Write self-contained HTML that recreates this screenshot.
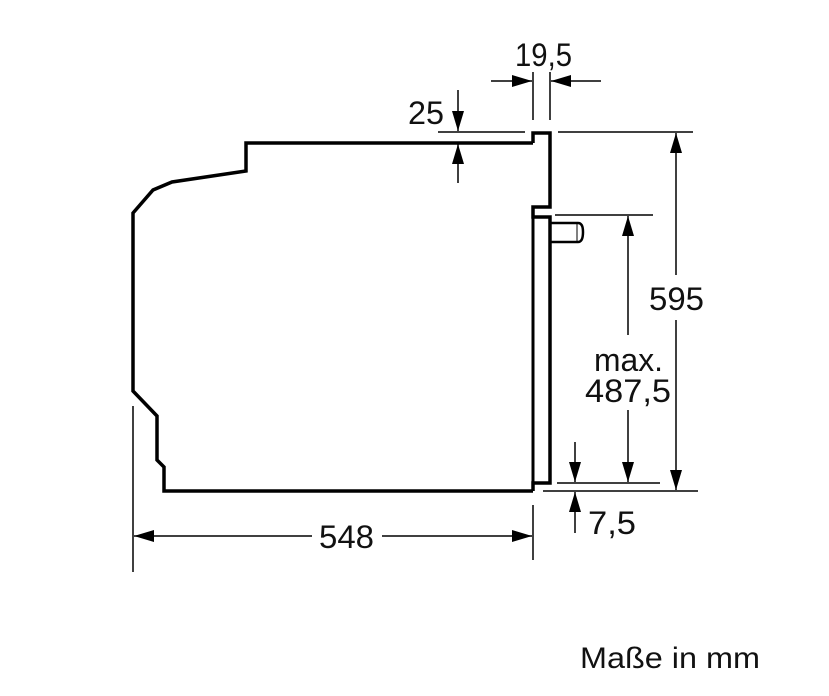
<!DOCTYPE html>
<html><head><meta charset="utf-8"><style>html,body{margin:0;padding:0;background:#fff}svg{display:block}</style></head><body>
<svg width="829" height="696" viewBox="0 0 829 696" xmlns="http://www.w3.org/2000/svg" font-family="Liberation Sans, Arial, sans-serif" fill="#111">
<defs>
<marker id="a" viewBox="0 0 10 10" refX="10" refY="5" markerWidth="12" markerHeight="12" markerUnits="userSpaceOnUse" orient="auto"><path d="M0,0 L10,5 L0,10 z" fill="#000"/></marker>
<marker id="b" viewBox="0 0 20 12" refX="20" refY="6" markerWidth="20" markerHeight="12" markerUnits="userSpaceOnUse" orient="auto"><path d="M0,0 L20,6 L0,12 z" fill="#000"/></marker>
</defs>
<path d="M533,143 L246,143 L246,171 L172,182 L153,190 L133,213 L133,391 L157,416 L157,460 L164,467 L164,491 L533,491" fill="none" stroke="#000" stroke-width="3.5" stroke-linejoin="miter"/>
<path d="M533,143 L533,133 L550,133 L550,207 L533,207 L533,217 L550,217 L550,483 L533,483 L533,491" fill="none" stroke="#000" stroke-width="3.5"/>
<path d="M533,217 L533,483" fill="none" stroke="#000" stroke-width="3"/>
<path d="M550,223 L578,223 Q583,223 583,232 Q583,242 578,242 L550,242" fill="none" stroke="#000" stroke-width="2.5"/>
<line x1="577" y1="224" x2="577" y2="241" stroke="#000" stroke-width="1"/>
<g stroke="#000" stroke-width="1.5" fill="none">
<line x1="533" y1="72" x2="533" y2="120"/>
<line x1="550" y1="72" x2="550" y2="120"/>
<line x1="491" y1="81" x2="532" y2="81" marker-end="url(#b)"/>
<line x1="601" y1="81" x2="551" y2="81" marker-end="url(#b)"/>
<line x1="438" y1="132" x2="525" y2="132"/>
<line x1="458" y1="90" x2="458" y2="131" marker-end="url(#b)"/>
<line x1="458" y1="183" x2="458" y2="144" marker-end="url(#b)"/>
<line x1="558" y1="132" x2="693" y2="132"/>
<line x1="543" y1="491" x2="698" y2="491"/>
<line x1="676" y1="275" x2="676" y2="133" marker-end="url(#b)"/>
<line x1="676" y1="320" x2="676" y2="490" marker-end="url(#b)"/>
<line x1="555" y1="215" x2="653" y2="215"/>
<line x1="557" y1="483" x2="660" y2="483"/>
<line x1="628" y1="335" x2="628" y2="216" marker-end="url(#b)"/>
<line x1="628" y1="410" x2="628" y2="482" marker-end="url(#b)"/>
<line x1="575" y1="442" x2="575" y2="482" marker-end="url(#b)"/>
<line x1="575" y1="533" x2="575" y2="492" marker-end="url(#b)"/>
<line x1="133" y1="406" x2="133" y2="572"/>
<line x1="533" y1="505" x2="533" y2="560"/>
<line x1="312" y1="536" x2="134" y2="536" marker-end="url(#b)"/>
<line x1="382" y1="536" x2="532" y2="536" marker-end="url(#b)"/>
</g>
<g font-size="32">
<text x="515" y="66" textLength="57" lengthAdjust="spacingAndGlyphs">19,5</text>
<text x="408" y="124" textLength="36" lengthAdjust="spacingAndGlyphs">25</text>
<text x="649" y="310" textLength="55" lengthAdjust="spacingAndGlyphs">595</text>
<text x="594" y="371" textLength="69" lengthAdjust="spacingAndGlyphs">max.</text>
<text x="585" y="402" textLength="86" lengthAdjust="spacingAndGlyphs">487,5</text>
<text x="588" y="534" textLength="48" lengthAdjust="spacingAndGlyphs">7,5</text>
<text x="319" y="548" textLength="55" lengthAdjust="spacingAndGlyphs">548</text>
<text x="580" y="668" font-size="30" textLength="180" lengthAdjust="spacingAndGlyphs">Maße in mm</text>
</g>
</svg>
</body></html>
